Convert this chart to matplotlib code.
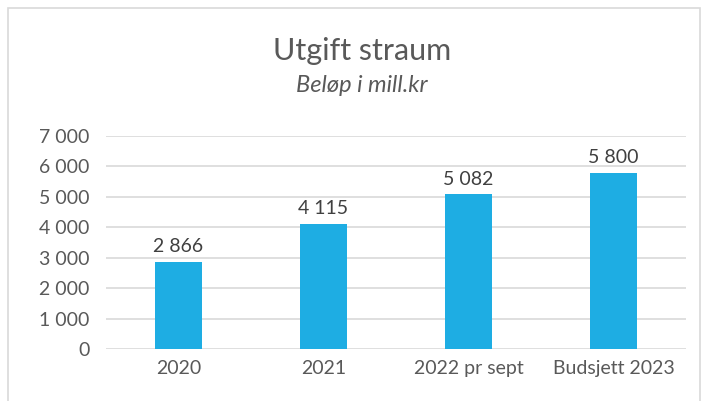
import numpy as np
import matplotlib.pyplot as plt
from matplotlib.patches import Rectangle

categories = ["2020", "2021", "2022 pr sept", "Budsjett 2023"]
values = [2866, 4115, 5082, 5800]
yticks = [0, 1000, 2000, 3000, 4000, 5000, 6000, 7000]

plt.rcParams['font.family'] = ['Lato', 'DejaVu Sans']
txt = '#595959'


def fmt(v):
    return f"{v:,}".replace(",", " ")


fig = plt.figure(figsize=(7.09, 4.01), dpi=100)
# light frame round the chart
fig.patches.append(Rectangle((8 / 709, -0.05), 692 / 709, 1 - 8 / 401 + 0.05,
                             transform=fig.transFigure, fill=False,
                             edgecolor='#d9d9d9', linewidth=1.2))

ax = fig.add_axes([106 / 709, 1 - 349 / 401, 580 / 709, 213 / 401])
x = np.arange(len(categories))
ax.bar(x, values, width=0.32, color='#1eade3', zorder=3)
for xi, v in zip(x, values):
    ax.text(xi, v + 220, fmt(v), ha='center', va='bottom', fontsize=14, color='#404040')

ax.set_xlim(-0.5, len(categories) - 0.5)
ax.set_ylim(0, 7000)
ax.set_yticks(yticks)
ax.set_yticklabels([fmt(t) for t in yticks], fontsize=14, color=txt)
ax.set_xticks(x)
ax.set_xticklabels(categories, fontsize=14, color=txt)
ax.tick_params(length=0, pad=12)
ax.tick_params(axis='x', pad=8)
ax.grid(axis='y', color='#d9d9d9', linewidth=1.2, zorder=0)
for s in ax.spines.values():
    s.set_visible(False)

fig.text(362 / 709, 1 - 51 / 401, "Utgift straum", ha='center', va='center',
         fontsize=22, color=txt)
fig.text(362 / 709, 1 - 86 / 401, "Beløp i mill.kr", ha='center', va='center',
         fontsize=17, style='italic', color=txt)

fig.savefig("out.png", dpi=100)
